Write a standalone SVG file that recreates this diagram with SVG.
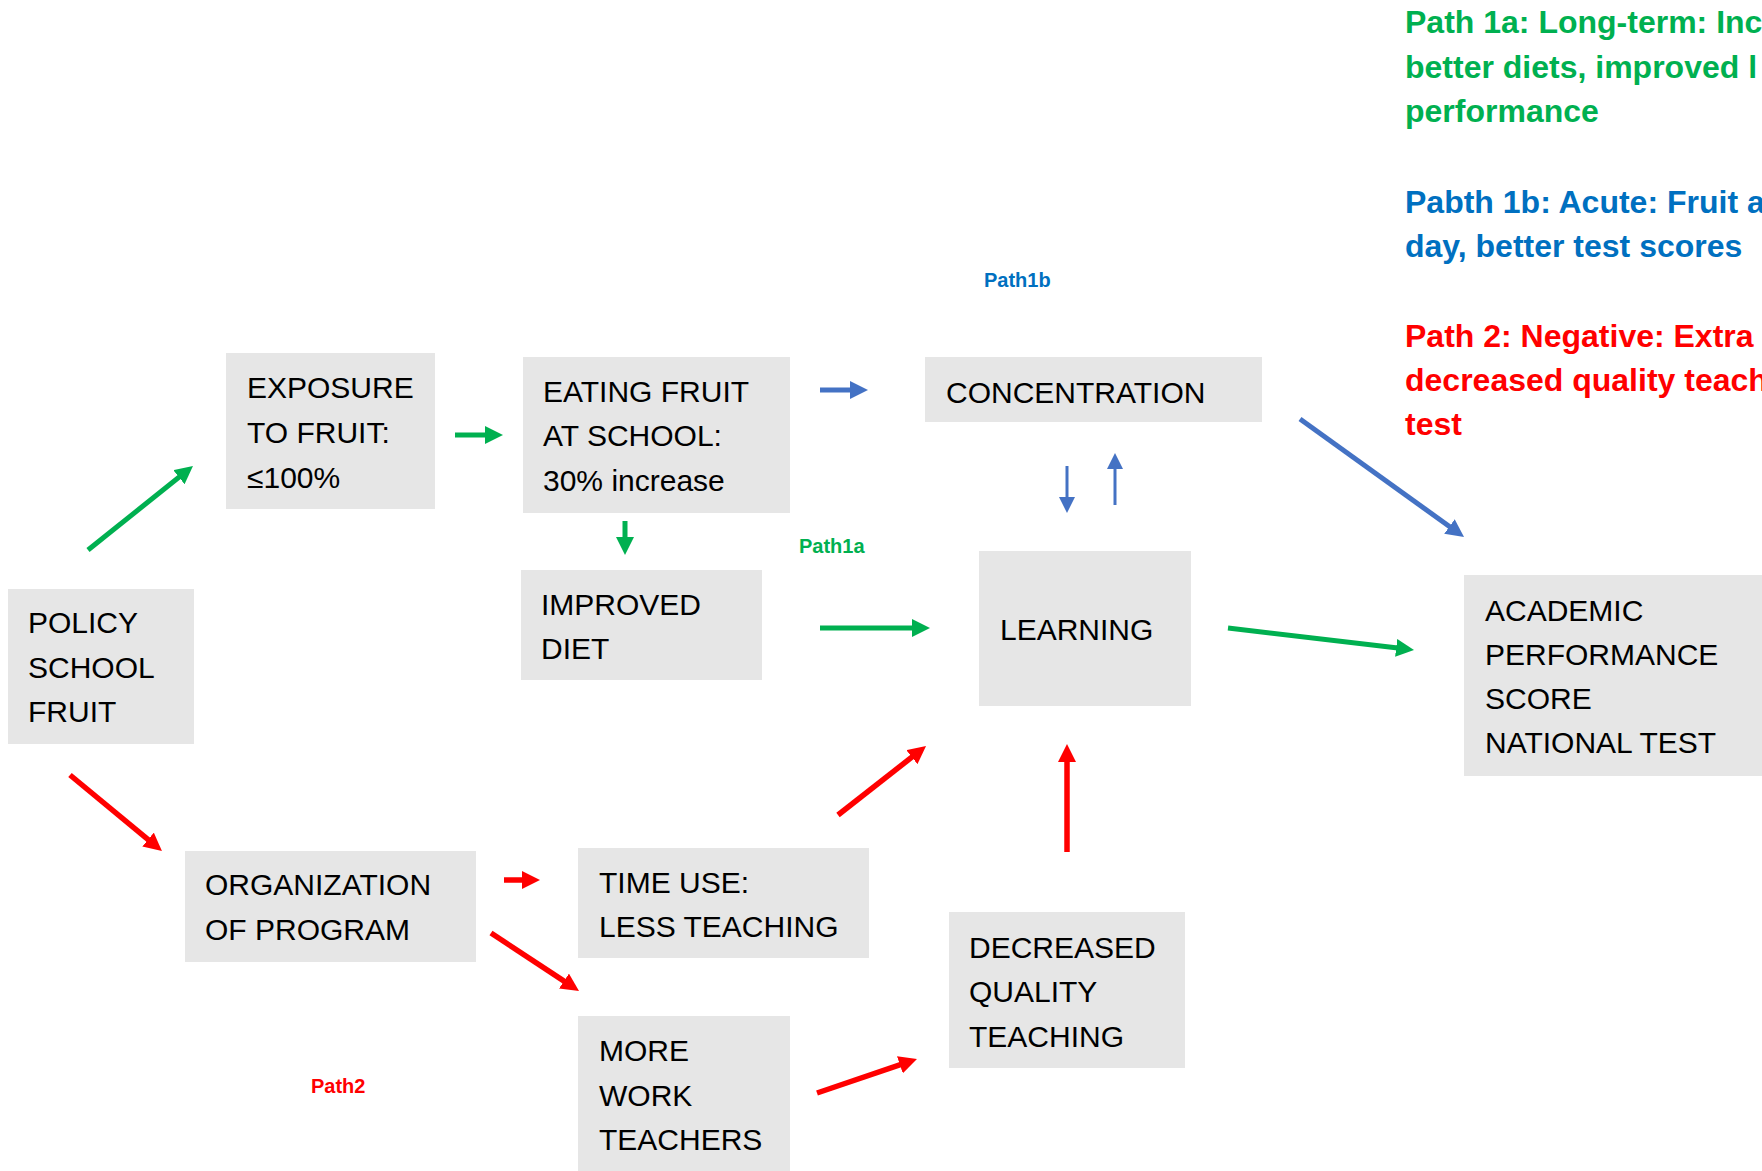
<svg xmlns="http://www.w3.org/2000/svg" width="1762" height="1171" viewBox="0 0 1762 1171">
<style>
.box{fill:#E6E6E6}
.t{font-family:"Liberation Sans",Arial,sans-serif;font-size:30px;fill:#000}
.leg{font-family:"Liberation Sans",Arial,sans-serif;font-size:32px;font-weight:bold}
.lab{font-family:"Liberation Sans",Arial,sans-serif;font-size:20px;font-weight:bold}
.g{stroke:#00B050;stroke-width:5;fill:none}
.b{stroke:#4472C4;stroke-width:5;fill:none}
.bt{stroke:#4472C4;stroke-width:3;fill:none}
.r{stroke:#FF0000;stroke-width:5.5;fill:none}
</style>
<defs>
<marker id="ag" markerUnits="userSpaceOnUse" markerWidth="18" markerHeight="18" refX="6" refY="9" orient="auto"><path d="M0,0 L18,9 L0,18 z" fill="#00B050"/></marker>
<marker id="ab" markerUnits="userSpaceOnUse" markerWidth="18" markerHeight="18" refX="6" refY="9" orient="auto"><path d="M0,0 L18,9 L0,18 z" fill="#4472C4"/></marker>
<marker id="abt" markerUnits="userSpaceOnUse" markerWidth="16" markerHeight="16" refX="6" refY="8" orient="auto"><path d="M0,0 L16,8 L0,16 z" fill="#4472C4"/></marker>
<marker id="ar" markerUnits="userSpaceOnUse" markerWidth="18" markerHeight="18" refX="6" refY="9" orient="auto"><path d="M0,0 L18,9 L0,18 z" fill="#FF0000"/></marker>
</defs>

<g id="legend">
<text class="leg" fill="#00B050"><tspan x="1405" y="33">Path 1a: Long-term: Inc</tspan><tspan x="1405" y="78">better diets, improved l</tspan><tspan x="1405" y="122">performance</tspan></text>
<text class="leg" fill="#0070C0"><tspan x="1405" y="213">Pabth 1b: Acute: Fruit a</tspan><tspan x="1405" y="257">day, better test scores</tspan></text>
<text class="leg" fill="#FF0000"><tspan x="1405" y="347">Path 2: Negative: Extra</tspan><tspan x="1405" y="391">decreased quality teach</tspan><tspan x="1405" y="435">test</tspan></text>
</g>

<g id="labels">
<text class="lab" x="984" y="287" fill="#0070C0">Path1b</text>
<text class="lab" x="799" y="553" fill="#00B050">Path1a</text>
<text class="lab" x="311" y="1093" fill="#FF0000">Path2</text>
</g>

<g id="policy"><rect class="box" x="8" y="589" width="186" height="155"/>
<text class="t"><tspan x="28" y="633">POLICY</tspan><tspan x="28" y="678">SCHOOL</tspan><tspan x="28" y="722">FRUIT</tspan></text></g>

<g id="exposure"><rect class="box" x="226" y="353" width="209" height="156"/>
<text class="t"><tspan x="247" y="398">EXPOSURE</tspan><tspan x="247" y="443">TO FRUIT:</tspan><tspan x="247" y="488">≤100%</tspan></text></g>

<g id="eating"><rect class="box" x="523" y="357" width="267" height="156"/>
<text class="t"><tspan x="543" y="402">EATING FRUIT</tspan><tspan x="543" y="446">AT SCHOOL:</tspan><tspan x="543" y="491">30% increase</tspan></text></g>

<g id="diet"><rect class="box" x="521" y="570" width="241" height="110"/>
<text class="t"><tspan x="541" y="615">IMPROVED</tspan><tspan x="541" y="659">DIET</tspan></text></g>

<g id="concentration"><rect class="box" x="925" y="357" width="337" height="65"/>
<text class="t" x="946" y="403">CONCENTRATION</text></g>

<g id="learning"><rect class="box" x="979" y="551" width="212" height="155"/>
<text class="t" x="1000" y="640">LEARNING</text></g>

<g id="academic"><rect class="box" x="1464" y="575" width="298" height="201"/>
<text class="t"><tspan x="1485" y="621">ACADEMIC</tspan><tspan x="1485" y="665">PERFORMANCE</tspan><tspan x="1485" y="709">SCORE</tspan><tspan x="1485" y="753">NATIONAL TEST</tspan></text></g>

<g id="organization"><rect class="box" x="185" y="851" width="291" height="111"/>
<text class="t"><tspan x="205" y="895">ORGANIZATION</tspan><tspan x="205" y="940">OF PROGRAM</tspan></text></g>

<g id="timeuse"><rect class="box" x="578" y="848" width="291" height="110"/>
<text class="t"><tspan x="599" y="893">TIME USE:</tspan><tspan x="599" y="937">LESS TEACHING</tspan></text></g>

<g id="morework"><rect class="box" x="578" y="1016" width="212" height="155"/>
<text class="t"><tspan x="599" y="1061">MORE</tspan><tspan x="599" y="1106">WORK</tspan><tspan x="599" y="1150">TEACHERS</tspan></text></g>

<g id="decreased"><rect class="box" x="949" y="912" width="236" height="156"/>
<text class="t"><tspan x="969" y="958">DECREASED</tspan><tspan x="969" y="1002">QUALITY</tspan><tspan x="969" y="1047">TEACHING</tspan></text></g>

<g id="connectors">
<line class="g" x1="88" y1="550" x2="183.6" y2="473.5" marker-end="url(#ag)"/>
<line class="g" x1="455" y1="435" x2="491" y2="435" marker-end="url(#ag)"/>
<line class="b" x1="820" y1="390" x2="856" y2="390" marker-end="url(#ab)"/>
<line class="g" x1="625" y1="521" x2="625" y2="543" marker-end="url(#ag)"/>
<line class="g" x1="820" y1="628" x2="918" y2="628" marker-end="url(#ag)"/>
<line class="bt" x1="1067" y1="466" x2="1067" y2="503" marker-end="url(#abt)"/>
<line class="bt" x1="1115" y1="505" x2="1115" y2="463" marker-end="url(#abt)"/>
<line class="b" x1="1300" y1="419" x2="1454.3" y2="530" marker-end="url(#ab)"/>
<line class="g" x1="1228" y1="628" x2="1402.1" y2="648.6" marker-end="url(#ag)"/>
<line class="r" x1="70" y1="775" x2="152.7" y2="843.4" marker-end="url(#ar)"/>
<line class="r" x1="504" y1="880" x2="528" y2="880" marker-end="url(#ar)"/>
<line class="r" x1="491" y1="933" x2="569" y2="984.4" marker-end="url(#ar)"/>
<line class="r" x1="838" y1="815" x2="916.6" y2="753.4" marker-end="url(#ar)"/>
<line class="r" x1="1067" y1="852" x2="1067" y2="756" marker-end="url(#ar)"/>
<line class="r" x1="817" y1="1093" x2="905.6" y2="1062.9" marker-end="url(#ar)"/>
</g>
</svg>
